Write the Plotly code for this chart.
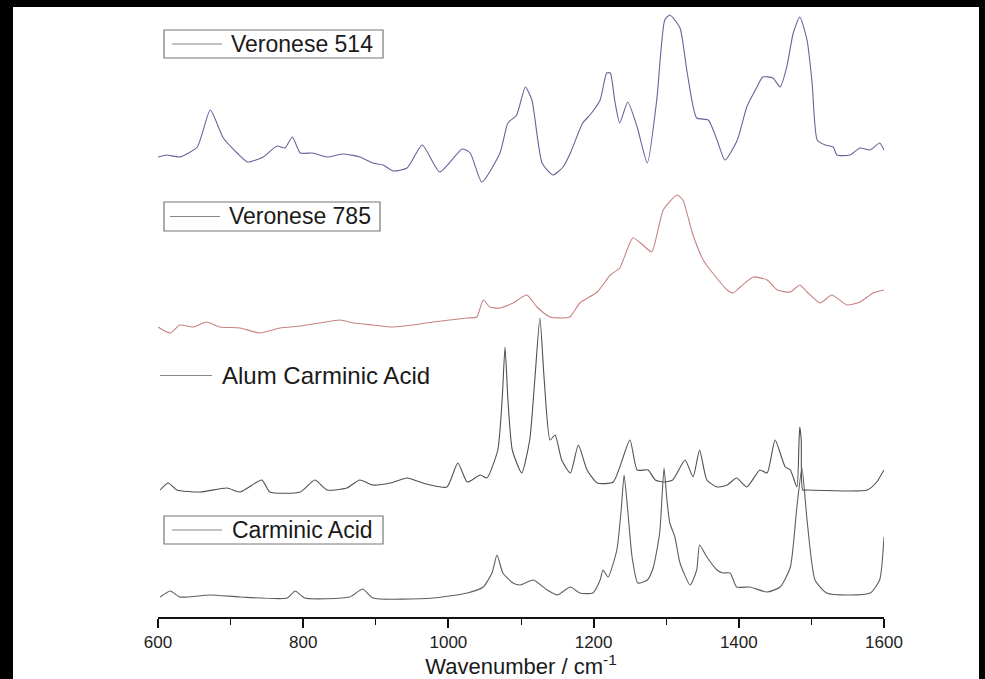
import plotly.graph_objects as go

# ---------------- data ----------------
v514_wn = [600, 612, 630, 654, 672, 690, 709, 723, 745, 764, 775, 785, 796, 813, 833, 855, 878, 896, 910, 924,
           943, 964, 988, 1019, 1030, 1046, 1071, 1082, 1094, 1106, 1115, 1129, 1144, 1158, 1168, 1185, 1195, 1209,
           1218, 1223, 1229, 1236, 1247, 1260, 1274, 1287, 1298, 1305, 1319, 1329, 1342, 1358, 1370, 1381, 1398,
           1411, 1425, 1433, 1447, 1457, 1466, 1475, 1484, 1494, 1501, 1508, 1519, 1530, 1535, 1553, 1567, 1581,
           1594, 1600]
v514_int = [460, 462, 460, 470, 507, 479, 464, 455, 460, 471, 469, 480, 464, 464, 460, 463, 460, 454, 452, 446,
            449, 472, 445, 468, 464, 435, 464, 494, 502, 530, 517, 454, 442, 450, 464, 494, 502, 517,
            544, 544, 517, 494, 515, 490, 454, 517, 597, 602, 589, 544, 499, 497, 477, 457, 477,
            510, 530, 540, 539, 530, 550, 584, 600, 577, 534, 477, 472, 470, 462, 462, 469, 467,
            474, 467]

v785_wn = [600, 617, 630, 648, 667, 685, 713, 740, 768, 796, 823, 851, 869, 896, 924, 951, 979, 1002, 1026, 1039,
           1048, 1057, 1071, 1089, 1108, 1122, 1140, 1167, 1181, 1205, 1223, 1236, 1254, 1268, 1280, 1296, 1315,
           1323, 1336, 1351, 1364, 1384, 1392, 1402, 1420, 1439, 1453, 1471, 1484, 1494, 1512, 1528, 1549, 1567,
           1585, 1600]
v785_int = [290, 284, 292, 290, 295, 290, 289, 284, 289, 291, 294, 297, 294, 292, 290, 292, 295, 297, 299, 300,
            317, 310, 309, 314, 322, 310, 300, 300, 314, 325, 342, 349, 379, 372, 365, 407, 422,
            417, 384, 357, 344, 327, 324, 330, 340, 337, 327, 325, 332, 325, 314, 322, 312, 315,
            324, 327]

alum_wn = [603, 614, 626, 658, 695, 713, 743, 754, 796, 816, 833, 860, 878, 896, 920, 943, 961, 975, 998, 1013,
           1026, 1044, 1053, 1068, 1074, 1078, 1082, 1088, 1101, 1112, 1119, 1126, 1132, 1140, 1147, 1156, 1168,
           1179, 1191, 1205, 1227, 1250, 1260, 1275, 1285, 1296, 1309, 1326, 1337, 1346, 1356, 1370, 1384, 1397,
           1411, 1429, 1439, 1450, 1464, 1471, 1480, 1483, 1484, 1486, 1488, 1494, 1577, 1590, 1600]
alum_int = [127, 134, 127, 125, 129, 125, 137, 125, 125, 137, 127, 129, 137, 132, 134, 139, 135, 132, 130, 154,
            135, 142, 139, 167, 217, 270, 217, 167, 144, 177, 237, 299, 237, 177, 182, 157, 144,
            172, 147, 134, 135, 177, 147, 147, 137, 135, 137, 157, 140, 167, 137, 130, 132, 139,
            130, 147, 144, 177, 150, 147, 130, 177, 190, 177, 127, 127, 127, 135, 147]

carm_wn = [603, 617, 630, 672, 713, 778, 789, 802, 864, 882, 896, 979, 1026, 1048, 1060, 1067, 1075, 1089, 1099,
           1117, 1136, 1150, 1168, 1181, 1199, 1209, 1213, 1220, 1232, 1238, 1242, 1247, 1253, 1261, 1274, 1282,
           1291, 1297, 1301, 1305, 1312, 1319, 1333, 1342, 1346, 1356, 1370, 1378, 1388, 1397, 1415, 1439, 1457,
           1471, 1480, 1487, 1494, 1505, 1521, 1553, 1581, 1594, 1600]
carm_int = [20, 26, 20, 22, 20, 19, 26, 19, 20, 28, 19, 19, 24, 30, 44, 62, 44, 34, 32,
            37, 27, 22, 30, 24, 24, 37, 47, 40, 67, 107, 142, 107, 60, 34, 37, 49,
            84, 149, 117, 94, 80, 54, 32, 47, 72, 60, 47, 44, 44, 30, 30, 25, 30,
            50, 110, 149, 97, 37, 24, 22, 24, 37, 80]

series = [
    ("Veronese 514", v514_wn, v514_int, "#64649c"),
    ("Veronese 785", v785_wn, v785_int, "#c98282"),
    ("Alum Carminic Acid", alum_wn, alum_int, "#505050"),
    ("Carminic Acid", carm_wn, carm_int, "#5e5e5e"),
]

x_ticks = [600, 800, 1000, 1200, 1400, 1600]

# ---------------- layout geometry (pixels) ----------------
W, H = 985, 679
L, R, T, B = 158, 884, 7, 617  # plot area edges in pixels


def px(x):
    return (x - L) / (R - L)


def py(y):
    return (B - y) / (B - T)


fig = go.Figure()
for name, xs, ys, col in series:
    fig.add_trace(go.Scatter(x=xs, y=ys, mode="lines", name=name,
                             line=dict(color=col, width=1.1, shape="spline", smoothing=0.55),
                             showlegend=False))

shapes = [
    # white panel over black background
    dict(type="rect", xref="paper", yref="paper", x0=px(13), x1=px(979), y0=py(679), y1=py(7),
         fillcolor="white", line=dict(width=0), layer="below"),
]
annotations = []

FONT = "Liberation Sans, Arial, sans-serif"
legend_items = [
    # label, box?, box x0, x1, y0, y1, line x0, x1, text x, font size
    ("Veronese 514", True, 164, 383, 30, 58, 172, 222, 229, 23),
    ("Veronese 785", True, 164, 380, 202, 231, 170, 220, 227, 23),
    ("Alum Carminic Acid", False, 0, 0, 362, 389, 160, 212, 220, 24),
    ("Carminic Acid", True, 164, 383, 516, 544, 172, 222, 230, 23),
]
for label, box, bx0, bx1, by0, by1, lx0, lx1, tx, fs in legend_items:
    yc = (by0 + by1) / 2
    if box:
        shapes.append(dict(type="rect", xref="paper", yref="paper", x0=px(bx0), x1=px(bx1),
                           y0=py(by1), y1=py(by0), line=dict(color="#777777", width=1.2),
                           fillcolor="rgba(0,0,0,0)"))
    shapes.append(dict(type="line", xref="paper", yref="paper", x0=px(lx0), x1=px(lx1),
                       y0=py(yc), y1=py(yc), line=dict(color="#888888", width=1.1)))
    annotations.append(dict(xref="paper", yref="paper", x=px(tx), y=py(yc), xanchor="left",
                            yanchor="middle", text=label, showarrow=False,
                            font=dict(family=FONT, size=fs, color="#1a1a1a")))

fig.update_layout(
    width=W, height=H,
    margin=dict(l=L, r=W - R, t=T, b=H - B, pad=0),
    paper_bgcolor="black",
    plot_bgcolor="white",
    shapes=shapes,
    annotations=annotations,
    showlegend=False,
    xaxis=dict(range=[600, 1600], tickvals=x_ticks, ticktext=[str(v) for v in x_ticks],
               showline=True, linecolor="#111111", linewidth=1.6, ticks="outside", ticklen=9,
               tickwidth=1.6, tickcolor="#111111", showgrid=False, zeroline=False,
               minor=dict(tickvals=[700, 900, 1100, 1300, 1500], ticks="outside", ticklen=6,
                          tickwidth=1.3, tickcolor="#111111"),
               tickfont=dict(family=FONT, size=17, color="#222222"),
               title=dict(text="Wavenumber / cm<sup>-1</sup>", standoff=4,
                          font=dict(family=FONT, size=22, color="#1a1a1a"))),
    yaxis=dict(range=[0, 610], visible=False, showgrid=False, zeroline=False),
)

fig.write_html("out.html")
